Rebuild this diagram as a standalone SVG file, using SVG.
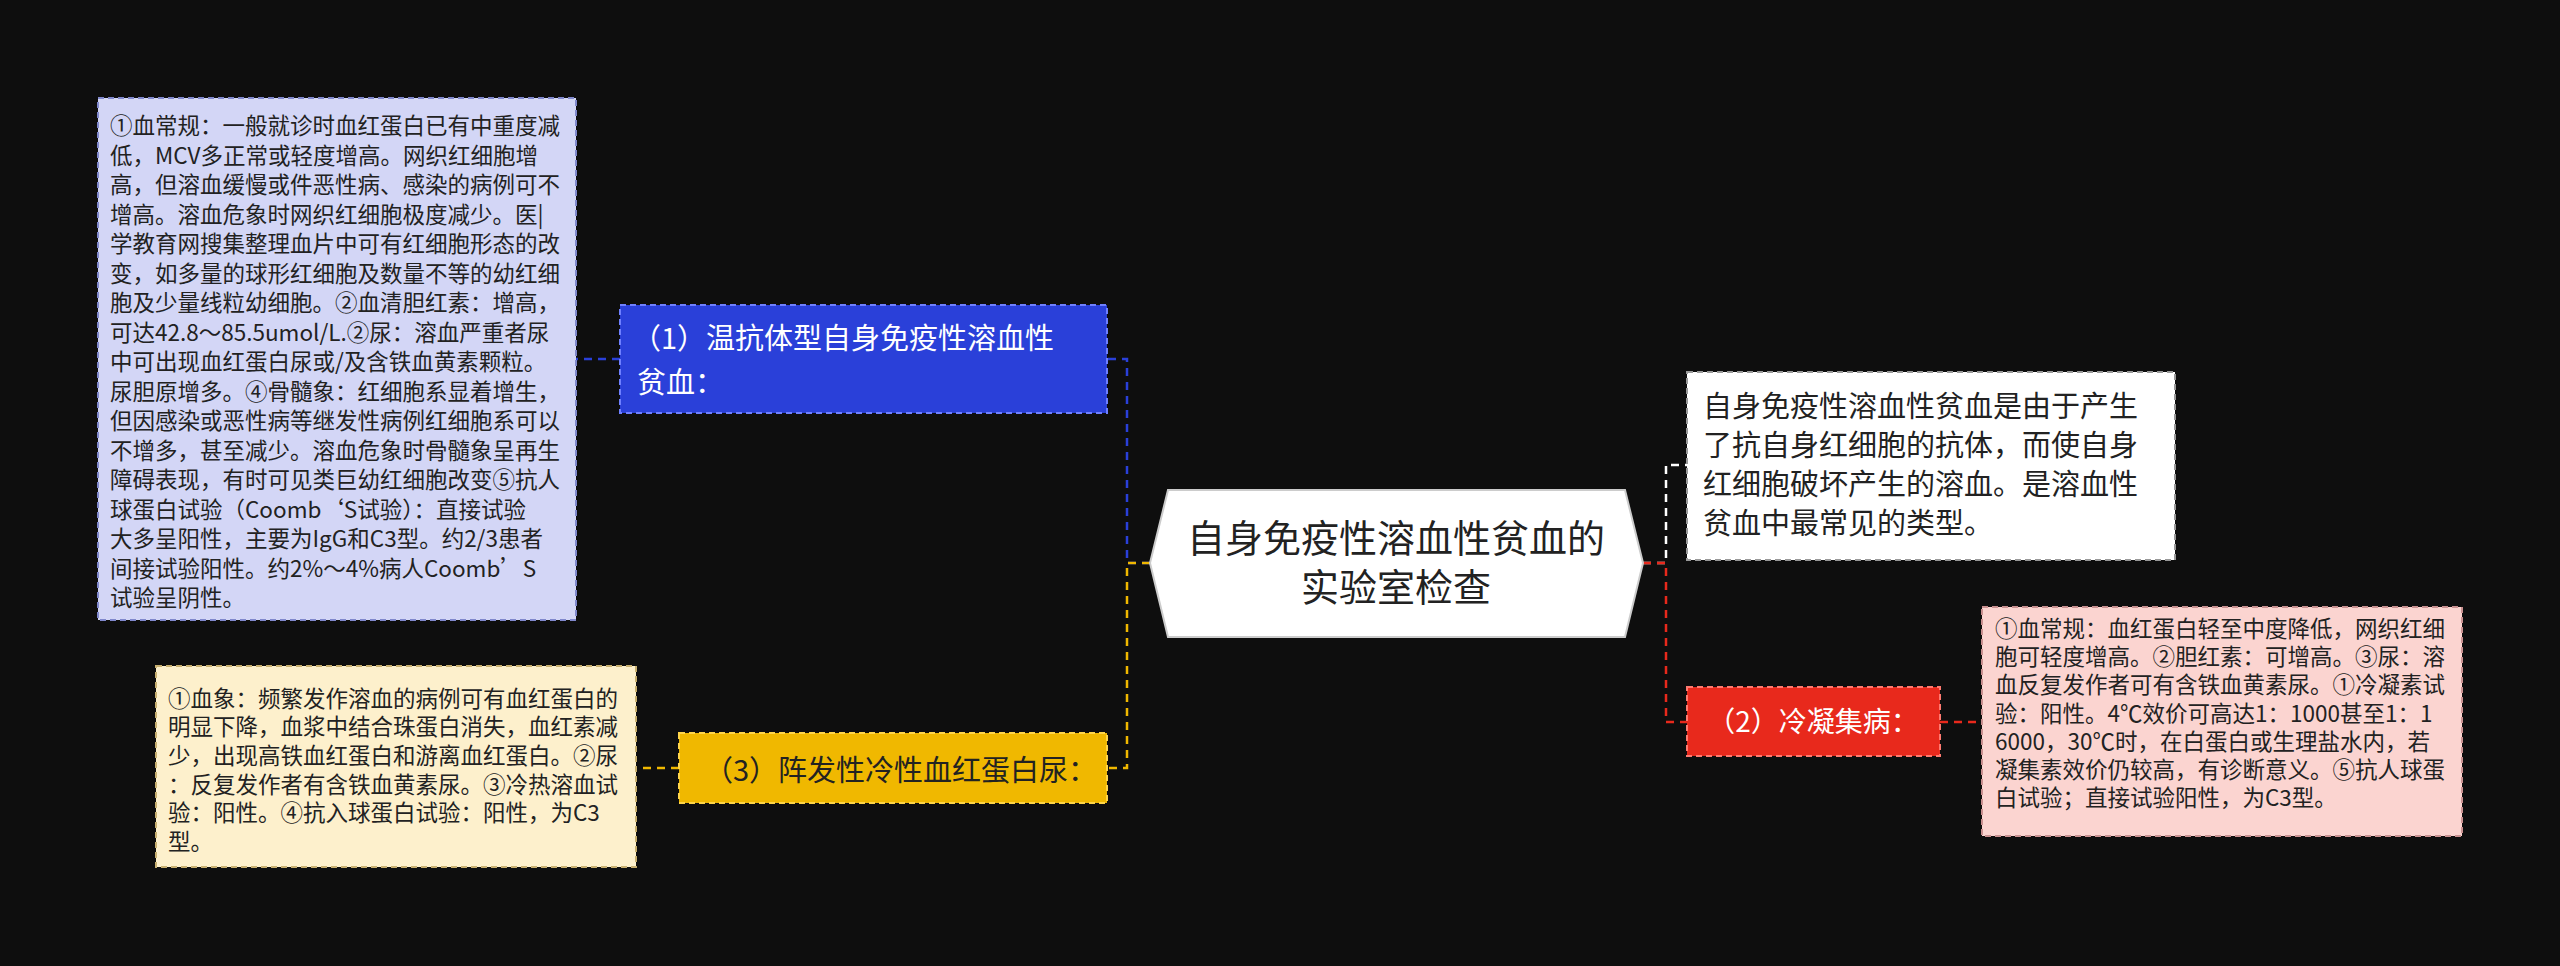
<svg xmlns="http://www.w3.org/2000/svg" width="2560" height="966" viewBox="0 0 2560 966">
<style>
text{font-family:"Noto Sans CJK SC","Liberation Sans",sans-serif}
.s{font-size:22.5px;fill:#222}
.c{fill:none;stroke-width:2.5;stroke-dasharray:8 6}
</style>
<rect width="2560" height="966" fill="#0e0e0e"/>
<g id="connectors">
<path class="c" stroke="#2a40d9" d="M1150 563H1127V359H1107M620 359H576"/>
<path class="c" stroke="#f0b800" d="M1150 563H1127V768H1107M679 768H636"/>
<path class="c" stroke="#ffffff" d="M1643 563H1666V465H1687"/>
<path class="c" stroke="#e8291c" d="M1643 563H1666V722H1687M1940 722H1981"/>
</g>
<g id="center">
<polygon points="1168,490 1625,490 1643,563 1625,637 1168,637 1150,563" fill="#fff" stroke="#ccc" stroke-width="2"/>
<text x="1396" y="552" font-size="38" text-anchor="middle" fill="#222">自身免疫性溶血性贫血的</text>
<text x="1396" y="601" font-size="38" text-anchor="middle" fill="#222">实验室检查</text>
</g>
<g id="n1">
<rect x="620" y="305" width="487" height="108" fill="#2a40d9" stroke="#6f80ff" stroke-dasharray="6 4" stroke-width="2"/>
<text font-size="29" fill="#fff"><tspan x="632" y="349">（1）温抗体型自身免疫性溶血性</tspan><tspan x="637" y="393">贫血：</tspan></text>
</g>
<g id="n1d">
<rect x="98" y="98" width="478" height="522" fill="#d3d6f6" stroke="#8088cc" stroke-dasharray="6 4" stroke-width="2"/>
<text class="s"><tspan x="110" y="134">①血常规：一般就诊时血红蛋白已有中重度减</tspan><tspan x="110" y="163.5">低，MCV多正常或轻度增高。网织红细胞增</tspan><tspan x="110" y="193">高，但溶血缓慢或件恶性病、感染的病例可不</tspan><tspan x="110" y="222.5">增高。溶血危象时网织红细胞极度减少。医|</tspan><tspan x="110" y="252">学教育网搜集整理血片中可有红细胞形态的改</tspan><tspan x="110" y="281.5">变，如多量的球形红细胞及数量不等的幼红细</tspan><tspan x="110" y="311">胞及少量线粒幼细胞。②血清胆红素：增高，</tspan><tspan x="110" y="340.5">可达42.8～85.5umol/L.②尿：溶血严重者尿</tspan><tspan x="110" y="370">中可出现血红蛋白尿或/及含铁血黄素颗粒。</tspan><tspan x="110" y="399.5">尿胆原增多。④骨髓象：红细胞系显着增生，</tspan><tspan x="110" y="429">但因感染或恶性病等继发性病例红细胞系可以</tspan><tspan x="110" y="458.5">不增多，甚至减少。溶血危象时骨髓象呈再生</tspan><tspan x="110" y="488">障碍表现，有时可见类巨幼红细胞改变⑤抗人</tspan><tspan x="110" y="517.5">球蛋白试验（Coomb‘S试验）：直接试验</tspan><tspan x="110" y="547">大多呈阳性，主要为IgG和C3型。约2/3患者</tspan><tspan x="110" y="576.5">间接试验阳性。约2%～4%病人Coomb’S</tspan><tspan x="110" y="606">试验呈阴性。</tspan></text>
</g>
<g id="n3">
<rect x="679" y="733" width="428" height="70" fill="#f0b800" stroke="#ffd54a" stroke-dasharray="6 4" stroke-width="2"/>
<text x="704" y="781" font-size="29" fill="#222">（3）阵发性冷性血红蛋白尿：</text>
</g>
<g id="n3d">
<rect x="156" y="666" width="480" height="201" fill="#fdf0cc" stroke="#c8b070" stroke-dasharray="6 4" stroke-width="2"/>
<text class="s"><tspan x="168" y="707">①血象：频繁发作溶血的病例可有血红蛋白的</tspan><tspan x="168" y="735">明显下降，血浆中结合珠蛋白消失，血红素减</tspan><tspan x="168" y="764">少，出现高铁血红蛋白和游离血红蛋白。②尿</tspan><tspan x="168" y="793">：反复发作者有含铁血黄素尿。③冷热溶血试</tspan><tspan x="168" y="821">验：阳性。④抗入球蛋白试验：阳性，为C3</tspan><tspan x="168" y="850">型。</tspan></text>
</g>
<g id="n0">
<rect x="1687" y="372" width="488" height="188" fill="#fff" stroke="#999" stroke-dasharray="6 4" stroke-width="2"/>
<text font-size="29" fill="#222"><tspan x="1703" y="417">自身免疫性溶血性贫血是由于产生</tspan><tspan x="1703" y="456">了抗自身红细胞的抗体，而使自身</tspan><tspan x="1703" y="495">红细胞破坏产生的溶血。是溶血性</tspan><tspan x="1703" y="534">贫血中最常见的类型。</tspan></text>
</g>
<g id="n2">
<rect x="1687" y="687" width="253" height="69" fill="#e8291c" stroke="#ff7a70" stroke-dasharray="6 4" stroke-width="2"/>
<text x="1813" y="732" font-size="28" fill="#fff" text-anchor="middle">（2）冷凝集病：</text>
</g>
<g id="n2d">
<rect x="1982" y="607" width="480" height="229" fill="#fbd4d0" stroke="#c89090" stroke-dasharray="6 4" stroke-width="2"/>
<text class="s" fill="#3a1010"><tspan x="1995" y="637">①血常规：血红蛋白轻至中度降低，网织红细</tspan><tspan x="1995" y="665">胞可轻度增高。②胆红素：可增高。③尿：溶</tspan><tspan x="1995" y="693">血反复发作者可有含铁血黄素尿。①冷凝素试</tspan><tspan x="1995" y="722">验：阳性。4℃效价可高达1：1000甚至1：1</tspan><tspan x="1995" y="750">6000，30℃时，在白蛋白或生理盐水内，若</tspan><tspan x="1995" y="778">凝集素效价仍较高，有诊断意义。⑤抗人球蛋</tspan><tspan x="1995" y="806">白试验；直接试验阳性，为C3型。</tspan></text>
</g>
</svg>
